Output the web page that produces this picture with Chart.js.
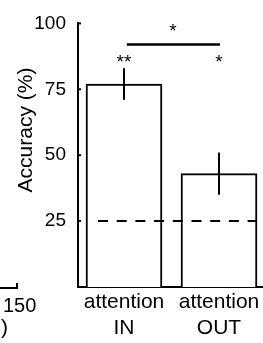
<!DOCTYPE html>
<html>
<head>
<meta charset="utf-8">
<script src="https://cdn.jsdelivr.net/npm/chart.js@4/dist/chart.umd.min.js"></script>
<style>
  html, body { margin: 0; padding: 0; background: #fff; overflow: hidden; }
  canvas { display: block; }
</style>
</head>
<body>
<canvas id="accChart" width="263" height="343"></canvas>
<script>
'use strict';

// data
const categories = [['attention', 'IN'], ['attention', 'OUT']];
const accuracy = [77, 43];
const sem = [6, 8];
const chanceLevel = 25;
const yTicks = [25, 50, 75, 100];
const barStars = ['**', '*'];
const barStarLevel = 83;
const pairStar = '*';
const pairLineLevel = 92;
const pairStarLevel = 95;

const FONT = '"Liberation Sans", Arial, Helvetica, sans-serif';

const extras = {
    id: 'extras',
    afterDatasetsDraw(chart) {
        const ctx = chart.ctx;
        const x = chart.scales.x;
        const y = chart.scales.y;
        const area = chart.chartArea;
        const bars = chart.getDatasetMeta(0).data;

        ctx.save();
        ctx.strokeStyle = '#000';
        ctx.fillStyle = '#000';
        ctx.lineWidth = 2;

        // error bars (no caps)
        accuracy.forEach((v, i) => {
            const px = x.getPixelForValue(i);
            ctx.beginPath();
            ctx.moveTo(px, y.getPixelForValue(v - sem[i]));
            ctx.lineTo(px, y.getPixelForValue(v + sem[i]));
            ctx.stroke();
        });

        // inward ticks on the y axis
        yTicks.forEach(t => {
            const py = y.getPixelForValue(t);
            ctx.beginPath();
            ctx.moveTo(area.left, py);
            ctx.lineTo(area.left + 3, py);
            ctx.stroke();
        });

        // chance level
        const lastBar = bars[bars.length - 1];
        const cy = y.getPixelForValue(chanceLevel);
        ctx.setLineDash([10, 8.7]);
        ctx.beginPath();
        ctx.moveTo(area.left + 20, cy);
        ctx.lineTo(lastBar.x + lastBar.width / 2, cy);
        ctx.stroke();
        ctx.setLineDash([]);

        // significance bracket
        const ly = y.getPixelForValue(pairLineLevel);
        ctx.lineWidth = 2.5;
        ctx.beginPath();
        ctx.moveTo(x.getPixelForValue(0.03), ly);
        ctx.lineTo(x.getPixelForValue(1.01), ly);
        ctx.stroke();

        ctx.font = '19px ' + FONT;
        ctx.textAlign = 'center';
        ctx.textBaseline = 'alphabetic';
        barStars.forEach((s, i) => {
            ctx.fillText(s, x.getPixelForValue(i), y.getPixelForValue(barStarLevel));
        });
        ctx.fillText(pairStar, x.getPixelForValue(0.515), y.getPixelForValue(pairStarLevel));

        // y axis title
        ctx.save();
        ctx.font = '21px ' + FONT;
        ctx.translate(26, 130);
        ctx.rotate(-Math.PI / 2);
        ctx.textBaseline = 'middle';
        ctx.fillText('Accuracy (%)', 0, 0);
        ctx.restore();

        // edge of the neighbouring panel
        ctx.lineWidth = 2;
        ctx.beginPath();
        ctx.moveTo(0, area.bottom + 1);
        ctx.lineTo(17, area.bottom + 1);
        ctx.lineTo(17, area.bottom - 4);
        ctx.stroke();
        ctx.textAlign = 'left';
        ctx.font = '20px ' + FONT;
        ctx.fillText('150', 3, 312);
        ctx.font = '21px ' + FONT;
        ctx.fillText(')', 1, 334);

        ctx.restore();
    }
};

const ctx = document.getElementById('accChart');

new Chart(ctx, {
    type: 'bar',
    data: {
        datasets: [{
            data: accuracy.map((v, i) => ({ x: i, y: v })),
            backgroundColor: '#fff',
            borderColor: '#000',
            borderWidth: 2,
            borderSkipped: 'bottom',
            barThickness: 76
        }]
    },
    options: {
        responsive: false,
        animation: false,
        events: [],
        layout: { autoPadding: false, padding: { top: 21, left: 0, right: 0, bottom: 0 } },
        plugins: {
            legend: { display: false },
            tooltip: { enabled: false }
        },
        scales: {
            x: {
                type: 'linear',
                offset: false,
                min: -0.4842,
                max: 1.4632,
                grid: { display: false, drawTicks: false, offset: false },
                border: { display: true, color: '#000', width: 2 },
                afterBuildTicks: scale => {
                    scale.ticks = categories.map((c, i) => ({ value: i }));
                },
                afterFit: scale => { scale.height = 56; },
                ticks: {
                    autoSkip: false,
                    maxRotation: 0,
                    padding: 3,
                    color: '#000',
                    font: { family: FONT, size: 21 },
                    callback: v => categories[v]
                }
            },
            y: {
                min: 0,
                max: 100,
                grid: { display: false, drawTicks: false },
                border: { display: true, color: '#000', width: 2 },
                afterBuildTicks: scale => {
                    scale.ticks = yTicks.map(v => ({ value: v }));
                },
                afterFit: scale => { scale.width = 78; },
                ticks: {
                    padding: 12,
                    color: '#000',
                    font: { family: FONT, size: 19 }
                }
            }
        }
    },
    plugins: [extras]
});
</script>
</body>
</html>
